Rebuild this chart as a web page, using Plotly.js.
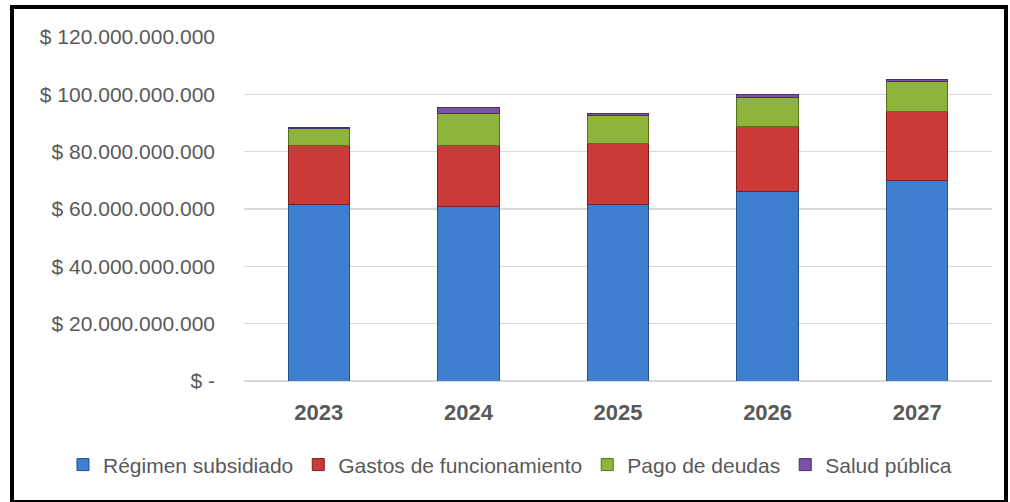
<!DOCTYPE html>
<html>
<head>
<meta charset="utf-8">
<script src="https://cdn.plot.ly/plotly-3.0.1.min.js"></script>
<style>
  html, body { margin: 0; padding: 0; background: #ffffff; }
  #chart { position: absolute; left: 0; top: 0; width: 1010px; height: 502px; }
  #frame { position: absolute; left: 10px; top: 5px; width: 990px; height: 491px;
           border: 4px solid #000; pointer-events: none; }
</style>
</head>
<body>
<div id="chart"></div>
<div id="frame"></div>
<script>
// Categories (years)
const years = ['2023', '2024', '2025', '2026', '2027'];

// Series values (pesos)
const regimenSubsidiado = [61.4e9, 60.8e9, 61.4e9, 66.0e9, 70.1e9];
const gastosFuncionamiento = [20.6e9, 21.5e9, 21.5e9, 22.7e9, 23.8e9];
const pagoDeudas = [6.1e9, 11.1e9, 9.6e9, 10.2e9, 10.7e9];
const saludPublica = [0.4e9, 1.9e9, 0.9e9, 0.9e9, 0.7e9];

// Series names
const seriesNames = ['Régimen subsidiado', 'Gastos de funcionamiento', 'Pago de deudas', 'Salud pública'];

// Y-axis ticks
const yTickVals = [0, 20e9, 40e9, 60e9, 80e9, 100e9, 120e9];
const yTickText = ['$ -', '$ 20.000.000.000', '$ 40.000.000.000', '$ 60.000.000.000',
                   '$ 80.000.000.000', '$ 100.000.000.000', '$ 120.000.000.000'];

const fills = ['#3f7fcf', '#c93a38', '#8fb43a', '#7a52a6'];
const edges = ['#24508c', '#7e1f1d', '#55701f', '#4a2f6b'];
const seriesData = [regimenSubsidiado, gastosFuncionamiento, pagoDeudas, saludPublica];

const font = 'Liberation Sans, Arial, sans-serif';

const traces = seriesData.map((vals, i) => ({
  type: 'bar',
  name: seriesNames[i],
  x: years,
  y: vals,
  width: 0.41,
  marker: { color: fills[i], line: { color: edges[i], width: 1 } },
  hoverinfo: 'skip'
}));

const layout = {
  width: 1010,
  height: 502,
  barmode: 'stack',
  paper_bgcolor: '#ffffff',
  plot_bgcolor: '#ffffff',
  margin: { l: 244, r: 18, t: 37, b: 121, pad: 0, autoexpand: false },
  font: { family: font, color: '#595959', size: 20 },
  showlegend: true,
  legend: {
    orientation: 'h',
    x: -0.242, xanchor: 'left',
    y: -0.244, yanchor: 'middle',
    font: { family: font, size: 21, color: '#595959' },
    itemwidth: 30,
    tracegroupgap: 0,
    traceorder: 'normal',
    bgcolor: 'rgba(0,0,0,0)'
  },
  xaxis: {
    type: 'category',
    tickfont: { family: font, size: 22, color: '#595959', weight: 'bold' },
    showgrid: false,
    showline: false,
    ticks: '',
    zeroline: false,
    ticklabelstandoff: 16
  },
  yaxis: {
    range: [0, 120e9],
    tickvals: yTickVals,
    ticktext: yTickText,
    tickfont: { family: font, size: 21, color: '#595959' },
    showgrid: true,
    gridcolor: '#d9d9d9',
    gridwidth: 1.5,
    zeroline: true,
    zerolinecolor: '#d9d9d9',
    zerolinewidth: 2,
    showline: false,
    ticks: '',
    ticklabelstandoff: 28
  }
};

Plotly.newPlot('chart', traces, layout, { displayModeBar: false, staticPlot: true });
</script>
</body>
</html>
